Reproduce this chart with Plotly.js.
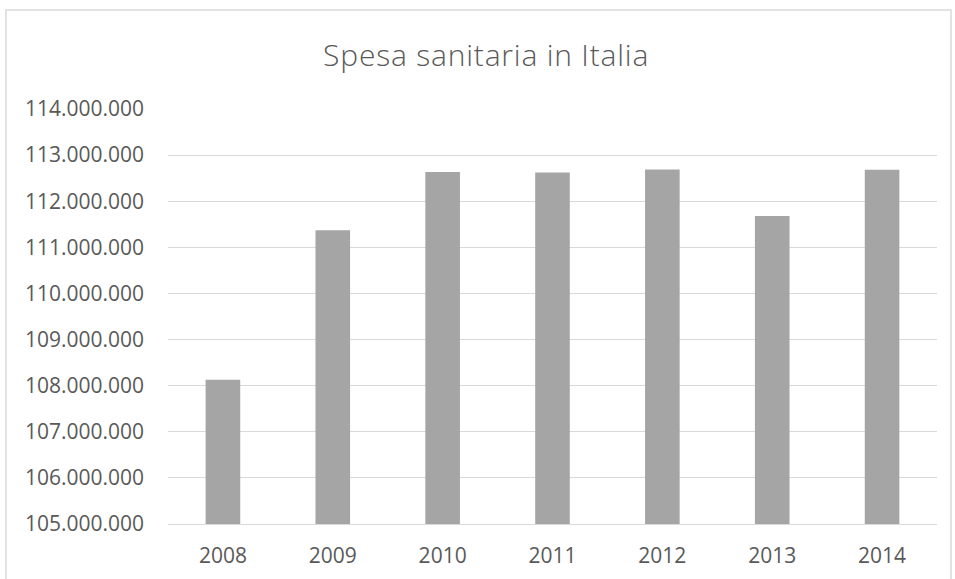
<!DOCTYPE html>
<html>
<head>
<meta charset="utf-8">
<script src="https://cdn.plot.ly/plotly-3.0.1.min.js"></script>
<style>
html,body{margin:0;padding:0;background:#fff;}
#chart{width:955px;height:579px;}
#chart .gtitle{letter-spacing:0.8px;}
</style>
</head>
<body>
<div id="chart"></div>
<script>
const years = ["2008", "2009", "2010", "2011", "2012", "2013", "2014"];
const spesa = [108130000, 111370000, 112630000, 112620000, 112685000, 111680000, 112680000];
const yTicks = [105000000, 106000000, 107000000, 108000000, 109000000, 110000000, 111000000, 112000000, 113000000, 114000000];

const txt = "#595959";
const grid = "#D9D9D9";
const fontFam = "'Open Sans', sans-serif";

const trace = {
  type: "bar",
  x: years,
  y: spesa,
  marker: {color: "#A5A5A5", line: {width: 0}},
  hoverinfo: "x+y"
};

const layout = {
  width: 955, height: 579,
  margin: {l: 168, r: 18, t: 108, b: 55, pad: 0},
  paper_bgcolor: "#fff", plot_bgcolor: "#fff",
  separators: ",.",
  showlegend: false,
  bargap: 0.685,
  font: {family: fontFam, color: txt, size: 21},
  title: {
    text: "Spesa sanitaria in Italia",
    font: {family: fontFam, size: 30, color: txt, weight: 300},
    xref: "container", x: 0.509, xanchor: "center",
    yref: "container", y: 0.905, yanchor: "middle"
  },
  xaxis: {
    type: "category",
    showgrid: false,
    showline: true, linecolor: grid, linewidth: 1,
    ticks: "", ticklabelstandoff: 13,
    tickfont: {family: fontFam, size: 21, color: txt}
  },
  yaxis: {
    range: [105000000, 114020000],
    tickvals: yTicks,
    tickformat: ",d",
    showgrid: true, gridcolor: grid, gridwidth: 1,
    zeroline: false, showline: false,
    ticks: "", ticklabelstandoff: 23,
    tickfont: {family: fontFam, size: 21, color: txt}
  },
  shapes: [{
    type: "rect", xref: "paper", yref: "paper",
    x0: -0.2107, x1: 1.0182, y0: -0.3, y1: 1.2356,
    line: {color: grid, width: 1.5}, fillcolor: "rgba(0,0,0,0)", layer: "below"
  }]
};

Plotly.newPlot("chart", [trace], layout, {displayModeBar: false, staticPlot: true});
</script>
</body>
</html>
